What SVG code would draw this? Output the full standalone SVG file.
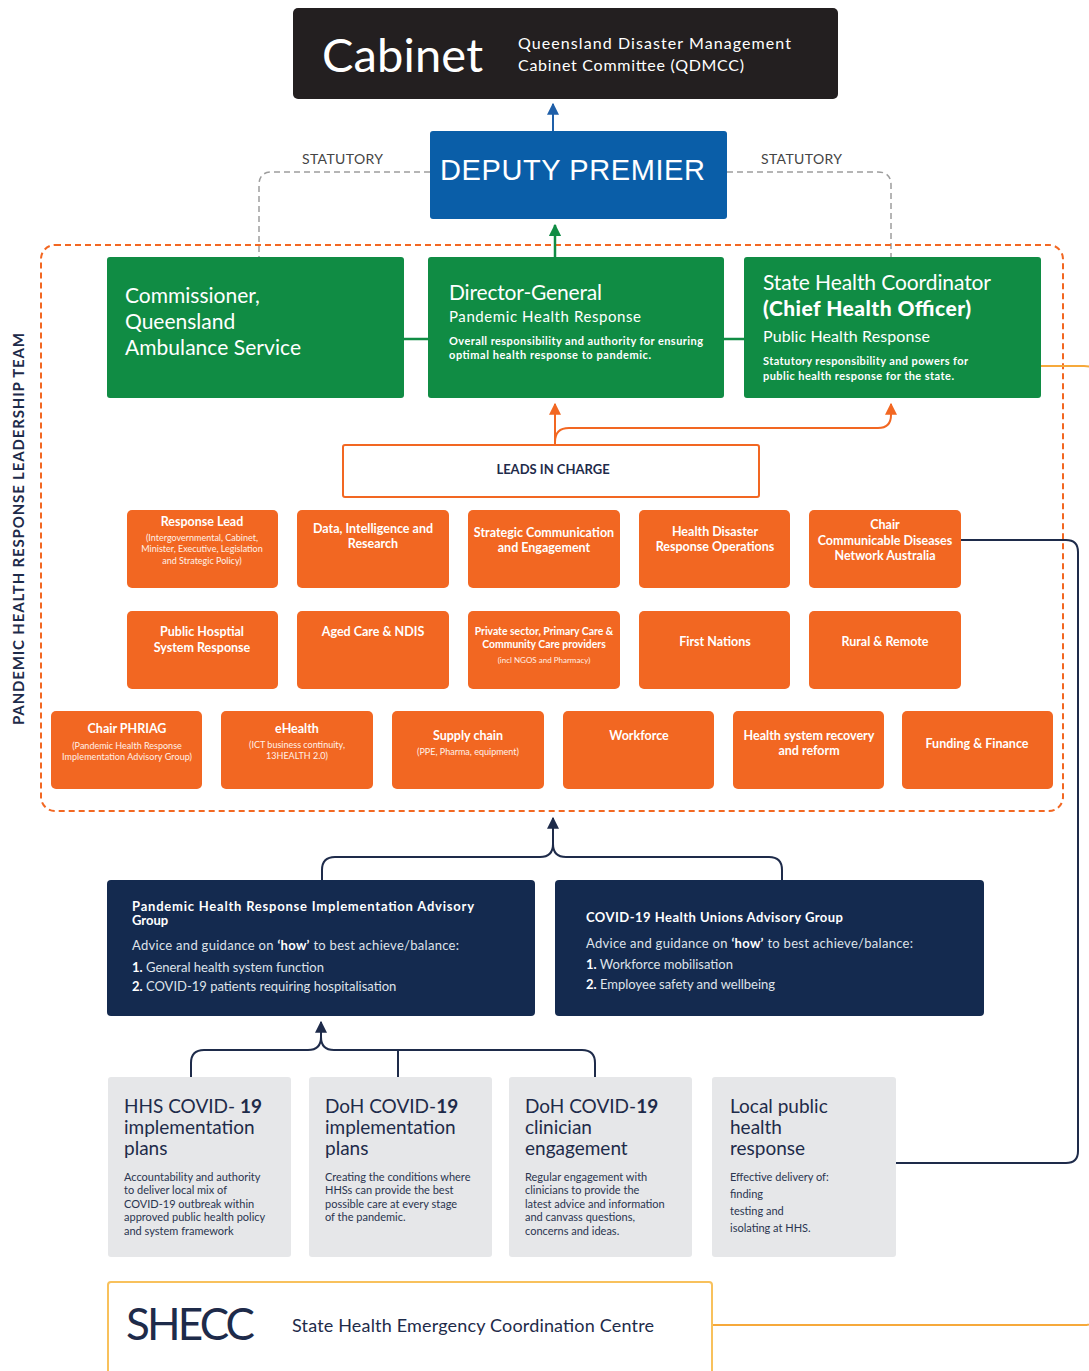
<svg xmlns="http://www.w3.org/2000/svg" width="1089" height="1371" viewBox="0 0 1089 1371">
<defs>
<style>
text{font-family:Lato,"Noto Sans","Liberation Sans",sans-serif}
.w{fill:#ffffff}
.ob{fill:#f26722}
.ot{fill:#ffffff;font-weight:bold;font-size:12.5px;text-anchor:middle}
.os{fill:#fff1e8;font-size:9px;text-anchor:middle}
.nv{fill:#142a4f}
.gb{fill:#e6e7e9}
.gt{fill:#1e2b4a;font-size:19px}
.gs{fill:#2a3550;font-size:11px}
.gr{fill:#108c44}
.nt{fill:#ffffff;font-weight:bold;font-size:13px}
.nb{fill:#dfe3ea;font-size:13px}
</style>
<marker id="aBlue" viewBox="0 0 10 10" refX="9" refY="5" markerWidth="6" markerHeight="6" orient="auto"><path d="M0,0 L10,5 L0,10 z" fill="#1f5fa8"/></marker>
<marker id="aGreen" viewBox="0 0 10 10" refX="9" refY="5" markerWidth="5" markerHeight="5" orient="auto"><path d="M0,0 L10,5 L0,10 z" fill="#108c44"/></marker>
<marker id="aOrange" viewBox="0 0 10 10" refX="9" refY="5" markerWidth="6" markerHeight="6" orient="auto"><path d="M0,0 L10,5 L0,10 z" fill="#f26722"/></marker>
<marker id="aNavy" viewBox="0 0 10 10" refX="9" refY="5" markerWidth="6" markerHeight="6" orient="auto"><path d="M0,0 L10,5 L0,10 z" fill="#1e2b4a"/></marker>
</defs>
<rect width="1089" height="1371" fill="#ffffff"/>

<g id="connectors" fill="none">
<path d="M430,172 H272 Q259,172 259,185 V257" stroke="#9d9d9d" stroke-width="1.5" stroke-dasharray="6 4"/>
<path d="M727,172 H878 Q891,172 891,185 V257" stroke="#9d9d9d" stroke-width="1.5" stroke-dasharray="6 4"/>
<rect x="41" y="245" width="1022" height="566" rx="14" stroke="#f26722" stroke-width="2" stroke-dasharray="6 4"/>
<path d="M553,131 V104" stroke="#1f5fa8" stroke-width="2" marker-end="url(#aBlue)"/>
<path d="M555,257 V225" stroke="#108c44" stroke-width="2.5" marker-end="url(#aGreen)"/>
<path d="M404,339 H428 M724,339 H744" stroke="#108c44" stroke-width="2.5"/>
<path d="M1041,366 H1084 Q1098,366 1098,380 V1311 Q1098,1325 1084,1325 H712" stroke="#f6a93b" stroke-width="2"/>
<path d="M555,445 V404" stroke="#f26722" stroke-width="2" marker-end="url(#aOrange)"/>
<path d="M555,442 Q555,428 569,428 H878 Q891,428 891,415 V404" stroke="#f26722" stroke-width="2" marker-end="url(#aOrange)"/>
<path d="M961,540 H1066 Q1078,540 1078,552 V1151 Q1078,1163 1066,1163 H896" stroke="#1e2b4a" stroke-width="2"/>
<path d="M553,845 V818" stroke="#1e2b4a" stroke-width="2" marker-end="url(#aNavy)"/>
<path d="M322,880 V870 Q322,857 335,857 H540 Q553,857 553,844 M782,880 V870 Q782,857 769,857 H566 Q553,857 553,844" stroke="#1e2b4a" stroke-width="2"/>
<path d="M321,1040 V1022" stroke="#1e2b4a" stroke-width="2" marker-end="url(#aNavy)"/>
<path d="M191,1077 V1063 Q191,1050 204,1050 H308 Q321,1050 321,1037 M595,1077 V1063 Q595,1050 582,1050 H334 Q321,1050 321,1037 M398,1050 V1077" stroke="#1e2b4a" stroke-width="2"/>
</g>

<g id="cabinet">
<rect x="293" y="8" width="545" height="91" rx="5" fill="#231f20"/>
<text x="322" y="72" class="w" font-size="47" textLength="161">Cabinet</text>
<text x="518" y="49" class="w" font-size="16" textLength="273">Queensland Disaster Management</text>
<text x="518" y="71" class="w" font-size="16" textLength="226">Cabinet Committee (QDMCC)</text>
</g>

<g id="deputy-premier">
<rect x="430" y="131" width="297" height="88" rx="3" fill="#0a5ea8"/>
<text x="440" y="180" class="w" font-size="29" style="font-family:'Liberation Sans',Arial,sans-serif" textLength="265">DEPUTY PREMIER</text>
</g>
<g id="statutory-labels">
<text x="302" y="164" fill="#444" font-size="14" textLength="81">STATUTORY</text>
<text x="761" y="164" fill="#444" font-size="14" textLength="81">STATUTORY</text>
</g>

<g id="commissioner">
<rect x="107" y="257" width="297" height="141" rx="3" class="gr"/>
<text x="125" y="303" class="w" font-size="21">Commissioner,</text>
<text x="125" y="329" class="w" font-size="21">Queensland</text>
<text x="125" y="355" class="w" font-size="21" textLength="176">Ambulance Service</text>
</g>
<g id="director-general">
<rect x="428" y="257" width="296" height="141" rx="3" class="gr"/>
<text x="449" y="300" class="w" font-size="21" textLength="153">Director-General</text>
<text x="449" y="322" class="w" font-size="15" textLength="192">Pandemic Health Response</text>
<text x="449" y="345" class="w" font-size="11" font-weight="bold" textLength="254">Overall responsibility and authority for ensuring</text>
<text x="449" y="359" class="w" font-size="11" font-weight="bold" textLength="202">optimal health response to pandemic.</text>
</g>
<g id="state-health-coordinator">
<rect x="744" y="257" width="297" height="141" rx="3" class="gr"/>
<text x="763" y="290" class="w" font-size="21" textLength="228">State Health Coordinator</text>
<text x="763" y="316" class="w" font-size="21" font-weight="900" textLength="208">(Chief Health Officer)</text>
<text x="763" y="342" class="w" font-size="16" textLength="167">Public Health Response</text>
<text x="763" y="365" class="w" font-size="11" font-weight="bold" textLength="205">Statutory responsibility and powers for</text>
<text x="763" y="380" class="w" font-size="11" font-weight="bold" textLength="191">public health response for the state.</text>
</g>
<g id="left-label">
<text transform="translate(24,529) rotate(-90)" text-anchor="middle" fill="#1e2b4a" font-size="15" font-weight="bold" textLength="392">PANDEMIC HEALTH RESPONSE LEADERSHIP TEAM</text>
</g>

<g id="leads-in-charge">
<rect x="343" y="445" width="416" height="52" rx="2" fill="#ffffff" stroke="#f26722" stroke-width="2"/>
<text x="553" y="474" text-anchor="middle" fill="#1e2b4a" font-size="13" font-weight="bold">LEADS IN CHARGE</text>
</g>

<g id="response-lead">
<rect x="127" y="510" width="151" height="78" rx="5" class="ob"/>
<text x="202" y="526" class="ot">Response Lead</text>
<text x="202" y="541" class="os">(Intergovernmental, Cabinet,</text>
<text x="202" y="552" class="os">Minister, Executive, Legislation</text>
<text x="202" y="564" class="os">and Strategic Policy)</text>
</g>
<g id="data-intelligence">
<rect x="297" y="510" width="152" height="78" rx="5" class="ob"/>
<text x="373" y="533" class="ot">Data, Intelligence and</text>
<text x="373" y="548" class="ot">Research</text>
</g>
<g id="strategic-communication">
<rect x="468" y="510" width="152" height="78" rx="5" class="ob"/>
<text x="544" y="537" class="ot">Strategic Communication</text>
<text x="544" y="552" class="ot">and Engagement</text>
</g>
<g id="health-disaster">
<rect x="639" y="510" width="151" height="78" rx="5" class="ob"/>
<text x="715" y="536" class="ot">Health Disaster</text>
<text x="715" y="551" class="ot">Response Operations</text>
</g>
<g id="chair-cdna">
<rect x="809" y="510" width="152" height="78" rx="5" class="ob"/>
<text x="885" y="529" class="ot">Chair</text>
<text x="885" y="545" class="ot">Communicable Diseases</text>
<text x="885" y="560" class="ot">Network Australia</text>
</g>

<g id="public-hospital">
<rect x="127" y="611" width="151" height="78" rx="5" class="ob"/>
<text x="202" y="636" class="ot">Public Hosptial</text>
<text x="202" y="652" class="ot">System Response</text>
</g>
<g id="aged-care">
<rect x="297" y="611" width="152" height="78" rx="5" class="ob"/>
<text x="373" y="636" class="ot">Aged Care &amp; NDIS</text>
</g>
<g id="private-sector">
<rect x="468" y="611" width="152" height="78" rx="5" class="ob"/>
<text x="544" y="635" class="ot" style="font-size:10.4px">Private sector, Primary Care &amp;</text>
<text x="544" y="648" class="ot" style="font-size:10.4px">Community Care providers</text>
<text x="544" y="663" class="os" style="font-size:8px">(incl NGOS and Pharmacy)</text>
</g>
<g id="first-nations">
<rect x="639" y="611" width="151" height="78" rx="5" class="ob"/>
<text x="715" y="646" class="ot">First Nations</text>
</g>
<g id="rural-remote">
<rect x="809" y="611" width="152" height="78" rx="5" class="ob"/>
<text x="885" y="646" class="ot">Rural &amp; Remote</text>
</g>

<g id="chair-phriag">
<rect x="51" y="711" width="151" height="78" rx="5" class="ob"/>
<text x="127" y="733" class="ot">Chair PHRIAG</text>
<text x="127" y="749" class="os">(Pandemic Health Response</text>
<text x="127" y="760" class="os" textLength="130">Implementation Advisory Group)</text>
</g>
<g id="ehealth">
<rect x="221" y="711" width="152" height="78" rx="5" class="ob"/>
<text x="297" y="733" class="ot">eHealth</text>
<text x="297" y="748" class="os">(ICT business continuity,</text>
<text x="297" y="759" class="os">13HEALTH 2.0)</text>
</g>
<g id="supply-chain">
<rect x="392" y="711" width="152" height="78" rx="5" class="ob"/>
<text x="468" y="740" class="ot">Supply chain</text>
<text x="468" y="755" class="os">(PPE, Pharma, equipment)</text>
</g>
<g id="workforce">
<rect x="563" y="711" width="151" height="78" rx="5" class="ob"/>
<text x="639" y="740" class="ot">Workforce</text>
</g>
<g id="health-system-recovery">
<rect x="733" y="711" width="151" height="78" rx="5" class="ob"/>
<text x="809" y="740" class="ot">Health system recovery</text>
<text x="809" y="755" class="ot">and reform</text>
</g>
<g id="funding-finance">
<rect x="902" y="711" width="151" height="78" rx="5" class="ob"/>
<text x="977" y="748" class="ot">Funding  &amp; Finance</text>
</g>

<g id="phriag">
<rect x="107" y="880" width="428" height="136" rx="4" class="nv"/>
<text x="132" y="911" class="nt" textLength="342">Pandemic Health Response Implementation Advisory</text>
<text x="132" y="925" class="nt">Group</text>
<text x="132" y="950" class="nb" textLength="327">Advice and guidance on <tspan font-weight="bold" fill="#ffffff">‘how’</tspan> to best achieve/balance:</text>
<text x="132" y="972" class="nb"><tspan font-weight="bold" fill="#ffffff">1.</tspan> General health system function</text>
<text x="132" y="991" class="nb"><tspan font-weight="bold" fill="#ffffff">2.</tspan> COVID-19 patients requiring hospitalisation</text>
</g>
<g id="unions-advisory">
<rect x="555" y="880" width="429" height="136" rx="4" class="nv"/>
<text x="586" y="922" class="nt" textLength="257">COVID-19 Health Unions Advisory Group</text>
<text x="586" y="948" class="nb" textLength="327">Advice and guidance on <tspan font-weight="bold" fill="#ffffff">‘how’</tspan> to best achieve/balance:</text>
<text x="586" y="969" class="nb"><tspan font-weight="bold" fill="#ffffff">1.</tspan> Workforce mobilisation</text>
<text x="586" y="989" class="nb"><tspan font-weight="bold" fill="#ffffff">2.</tspan> Employee safety and wellbeing</text>
</g>

<g id="hhs-plans">
<rect x="108" y="1077" width="183" height="180" rx="3" class="gb"/>
<text x="124" y="1113" class="gt">HHS COVID- <tspan font-weight="bold">19</tspan></text>
<text x="124" y="1134" class="gt">implementation</text>
<text x="124" y="1155" class="gt">plans</text>
<text x="124" y="1181" class="gs">Accountability and authority</text>
<text x="124" y="1194" class="gs">to deliver local mix of</text>
<text x="124" y="1208" class="gs">COVID-19 outbreak within</text>
<text x="124" y="1221" class="gs">approved public health policy</text>
<text x="124" y="1235" class="gs">and system framework</text>
</g>
<g id="doh-plans">
<rect x="309" y="1077" width="183" height="180" rx="3" class="gb"/>
<text x="325" y="1113" class="gt">DoH COVID-<tspan font-weight="bold">19</tspan></text>
<text x="325" y="1134" class="gt">implementation</text>
<text x="325" y="1155" class="gt">plans</text>
<text x="325" y="1181" class="gs">Creating the conditions where</text>
<text x="325" y="1194" class="gs">HHSs can provide the best</text>
<text x="325" y="1208" class="gs">possible care at every stage</text>
<text x="325" y="1221" class="gs">of the pandemic.</text>
</g>
<g id="doh-clinician">
<rect x="509" y="1077" width="183" height="180" rx="3" class="gb"/>
<text x="525" y="1113" class="gt">DoH COVID-<tspan font-weight="bold">19</tspan></text>
<text x="525" y="1134" class="gt">clinician</text>
<text x="525" y="1155" class="gt">engagement</text>
<text x="525" y="1181" class="gs">Regular engagement with</text>
<text x="525" y="1194" class="gs">clinicians to provide the</text>
<text x="525" y="1208" class="gs">latest advice and information</text>
<text x="525" y="1221" class="gs">and canvass questions,</text>
<text x="525" y="1235" class="gs">concerns and ideas.</text>
</g>
<g id="local-public-health">
<rect x="712" y="1077" width="184" height="180" rx="3" class="gb"/>
<text x="730" y="1113" class="gt">Local public</text>
<text x="730" y="1134" class="gt">health</text>
<text x="730" y="1155" class="gt">response</text>
<text x="730" y="1181" class="gs">Effective delivery of:</text>
<text x="730" y="1198" class="gs">finding</text>
<text x="730" y="1215" class="gs">testing and</text>
<text x="730" y="1232" class="gs">isolating at HHS.</text>
</g>

<g id="shecc">
<rect x="108" y="1282" width="604" height="100" rx="3" fill="#ffffff" stroke="#f8c15c" stroke-width="2"/>
<text x="126" y="1340" fill="#1e2b4a" font-size="44" textLength="129">SHECC</text>
<text x="292" y="1332" fill="#1e2b4a" font-size="18" textLength="362">State Health Emergency Coordination Centre</text>
</g>
</svg>
